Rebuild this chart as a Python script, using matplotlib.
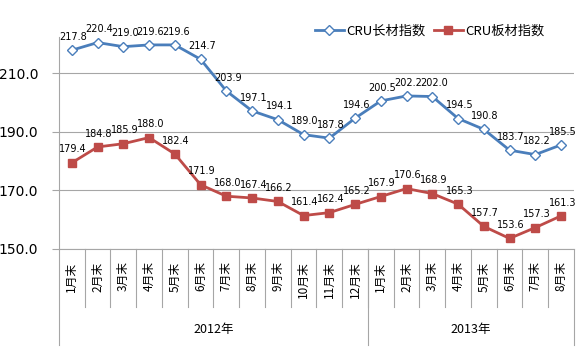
import matplotlib.pyplot as plt
from matplotlib.lines import Line2D

plt.rcParams['font.family'] = ['Noto Sans CJK SC', 'DejaVu Sans']

months = ['1月末', '2月末', '3月末', '4月末', '5月末', '6月末', '7月末', '8月末', '9月末',
          '10月末', '11月末', '12月末',
          '1月末', '2月末', '3月末', '4月末', '5月末', '6月末', '7月末', '8月末']
years = ['2012年', '2013年']
year_sizes = [12, 8]

long_index = [217.8, 220.4, 219.0, 219.6, 219.6, 214.7, 203.9, 197.1, 194.1, 189.0,
              187.8, 194.6, 200.5, 202.2, 202.0, 194.5, 190.8, 183.7, 182.2, 185.5]
flat_index = [179.4, 184.8, 185.9, 188.0, 182.4, 171.9, 168.0, 167.4, 166.2, 161.4,
              162.4, 165.2, 167.9, 170.6, 168.9, 165.3, 157.7, 153.6, 157.3, 161.3]

BLUE = '#4a7ebb'
RED = '#be4b48'
GRID = '#a6a6a6'

fig = plt.figure(figsize=(5.76, 3.48), dpi=100)
ax = fig.add_axes([0.1024, 0.2845, 0.894, 0.6092])

x = list(range(len(months)))
ax.plot(x, long_index, color=BLUE, lw=2, marker='D', ms=5, mfc='white',
        mec=BLUE, mew=1, label='CRU长材指数', zorder=3)
ax.plot(x, flat_index, color=RED, lw=2, marker='s', ms=6, mfc=RED,
        mec=RED, label='CRU板材指数', zorder=3)

for xi, v in zip(x, long_index):
    ax.annotate(f'{v:.1f}', (xi, v), xytext=(1, 6), textcoords='offset points',
                ha='center', va='bottom', fontsize=7, family='DejaVu Sans',
                annotation_clip=False)
for xi, v in zip(x, flat_index):
    ax.annotate(f'{v:.1f}', (xi, v), xytext=(1, 6), textcoords='offset points',
                ha='center', va='bottom', fontsize=7, family='DejaVu Sans',
                annotation_clip=False)

ax.set_xlim(-0.5, len(months) - 0.5)
ax.set_ylim(150, 222.3)
ax.set_yticks([150, 170, 190, 210])
ax.set_yticklabels([f'{t:.1f}' for t in [150, 170, 190, 210]], fontsize=10,
                   family='DejaVu Sans')
ax.yaxis.grid(True, color=GRID, lw=0.8)
ax.set_axisbelow(True)
for s in ['top', 'right']:
    ax.spines[s].set_visible(False)
ax.spines['left'].set_color(GRID)
ax.spines['bottom'].set_color(GRID)
ax.tick_params(axis='y', length=5, color=GRID, pad=10)

ax.set_xticks(x)
ax.set_xticklabels(months, rotation=90, fontsize=8.5, va='top')
ax.tick_params(axis='x', length=0, pad=9)

# category separators and year groups under the axis
tr = ax.get_xaxis_transform()
for b in range(1, len(months)):
    ax.add_line(Line2D([b - 0.5, b - 0.5], [0, -0.2736], transform=tr,
                       color=GRID, lw=0.8, clip_on=False))
start = 0
edges = [-0.5]
for name, n in zip(years, year_sizes):
    edges.append(start + n - 0.5)
    ax.text(start + n / 2 - 0.5, -0.382, name, transform=tr, ha='center',
            va='center', fontsize=9)
    start += n
for e in edges:
    ax.add_line(Line2D([e, e], [0, -0.453], transform=tr, color=GRID, lw=0.8,
                       clip_on=False))

fig.legend(loc='center', bbox_to_anchor=(0.746, 0.91), ncol=2, frameon=False,
           fontsize=9.5, handlelength=2.2, columnspacing=0.6, handletextpad=0.2)

fig.savefig('out.png', dpi=100)
